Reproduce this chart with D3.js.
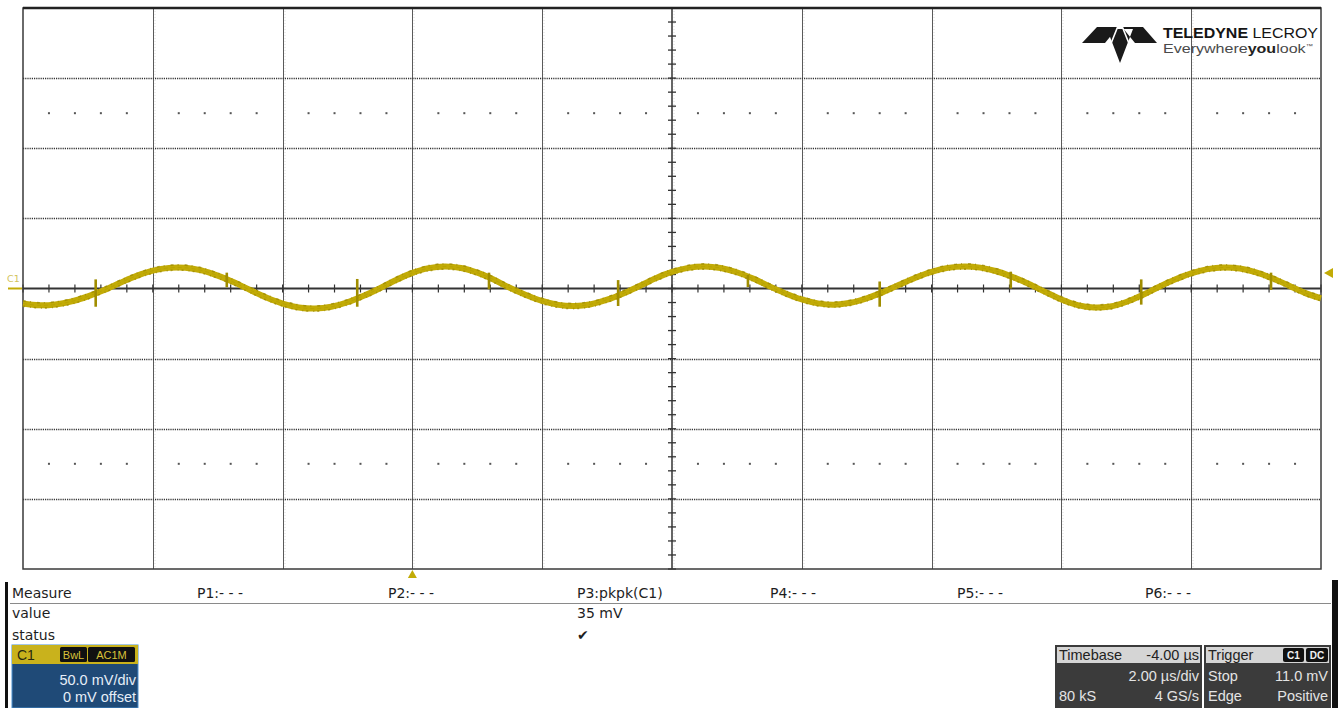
<!DOCTYPE html>
<html>
<head>
<meta charset="utf-8">
<script src="https://cdn.jsdelivr.net/npm/d3@7"></script>
<style>
  html, body { margin: 0; padding: 0; background: #ffffff; }
  svg { display: block; }
</style>
</head>
<body>
<svg id="scope" width="1338" height="708"></svg>
<script>
// ---- Acquisition: channel C1, 2.00 µs/div, 50.0 mV/div ----
// trace samples (time in µs relative to trigger, voltage in mV)
const sampleTimes = [
  -6.00, -5.75, -5.50, -5.25, -5.00, -4.75, -4.50, -4.25, -4.00, -3.75,
  -3.50, -3.25, -3.00, -2.75, -2.50, -2.25, -2.00, -1.75, -1.50, -1.25,
  -1.00, -0.75, -0.50, -0.25, 0.00, 0.25, 0.50, 0.75, 1.00, 1.25,
  1.50, 1.75, 2.00, 2.25, 2.50, 2.75, 3.00, 3.25, 3.50, 3.75,
  4.00, 4.25, 4.50, 4.75, 5.00, 5.25, 5.50, 5.75, 6.00, 6.25,
  6.50, 6.75, 7.00, 7.25, 7.50, 7.75, 8.00, 8.25, 8.50, 8.75,
  9.00, 9.25, 9.50, 9.75, 10.00, 10.25, 10.50, 10.75, 11.00, 11.25,
  11.50, 11.75, 12.00, 12.25, 12.50, 12.75, 13.00, 13.25, 13.50, 13.75,
  14.00
];
const sampleVolts = [
  -10.7, -12.0, -11.4, -9.2, -5.6, -1.1, 4.1, 9.0, 12.7, 14.7,
  14.8, 12.9, 9.2, 4.4, -1.1, -6.4, -10.7, -13.5, -14.3, -13.0,
  -9.8, -5.2, 0.2, 6.1, 11.1, 14.5, 15.7, 14.6, 11.3, 6.4,
  0.5, -4.6, -8.9, -11.7, -12.5, -11.2, -8.0, -3.5, 1.8, 7.3,
  11.8, 14.7, 15.7, 14.6, 11.6, 7.1, 1.6, -3.5, -7.8, -10.6,
  -11.5, -10.2, -7.0, -2.6, 2.6, 7.7, 11.9, 14.7, 15.7, 14.9,
  12.3, 8.2, 3.2, -2.4, -7.8, -11.8, -13.5, -12.8, -9.6, -4.7,
  1.1, 6.4, 10.8, 13.8, 15.0, 14.2, 11.5, 7.3, 2.2, -3.1,
  -7.0
];
// switching glitches riding on the trace (time µs, top mV, bottom mV)
const glitchTimes = [-4.88, -2.86, -0.85, 1.18, 3.17, 5.17, 7.20, 9.22, 11.23, 13.23];
const glitchHigh  = [6.5, 11.3, 6.8, 11.3, 6.0, 9.6, 5.0, 12.0, 6.5, 11.3];
const glitchLow   = [-13.0, 0.9, -13.0, -0.6, -12.5, 1.0, -13.0, 0.0, -11.5, -1.0];

// horizontal window and vertical range
const timeRange = [-6, 14];       // µs (timebase -4.00 µs, 10 div)
const voltRange = [-200, 200];    // mV (8 div × 50 mV)
const triggerTime = 0;            // µs
const triggerLevel = 11.0;        // mV
const dotRowVolt = 125;           // mV rows of fine grid dots

// measurement table
const measureHeaders = ["Measure", "P1:- - -", "P2:- - -", "P3:pkpk(C1)", "P4:- - -", "P5:- - -", "P6:- - -"];
const measureValues  = ["value", "", "", "35 mV", "", "", ""];
const measureStatus  = ["status", "", "", "\u2714", "", "", ""];

// descriptor boxes
const channelInfo  = { name: "C1", tags: ["BwL", "AC1M"], lines: ["50.0 mV/div", "0 mV offset"] };
const timebaseInfo = { title: "Timebase", value: "-4.00 \u00b5s", rows: [["", "2.00 \u00b5s/div"], ["80 kS", "4 GS/s"]] };
const triggerInfo  = { title: "Trigger", tags: ["C1", "DC"], rows: [["Stop", "11.0 mV"], ["Edge", "Positive"]] };

// ---- drawing ----
const svg = d3.select("#scope");
const plot = { left: 23, right: 1321, top: 8, bottom: 569 };

const x = d3.scaleLinear().domain(timeRange).range([plot.left, plot.right]);
const y = d3.scaleLinear().domain(voltRange).range([plot.bottom, plot.top]);

const TRACE = "#c2ab06";
const TRACE_DARK = "#9c8a00";

const g = svg.append("g");

// major divisions
const divTimes = x.ticks(10);           // every 2 µs
const divVolts = y.ticks(8);            // every 50 mV
const minorTimes = d3.range(timeRange[0], timeRange[1] + 1e-9, 0.4);
const minorVolts = d3.range(voltRange[0], voltRange[1] + 1e-9, 10);
const centreTime = (timeRange[0] + timeRange[1]) / 2;

// vertical grid lines
g.append("g").selectAll("line")
  .data(divTimes.filter(t => t > timeRange[0] && t < timeRange[1] && t !== centreTime))
  .join("line")
  .attr("x1", d => Math.round(x(d)) + 0.5).attr("x2", d => Math.round(x(d)) + 0.5)
  .attr("y1", plot.top).attr("y2", plot.bottom)
  .attr("stroke", "#5a5a5a").attr("stroke-width", 1);

// faint halo dots beside vertical grid lines
g.append("g").selectAll("line")
  .data(divTimes.filter(t => t > timeRange[0] && t < timeRange[1]))
  .join("line")
  .attr("x1", d => Math.round(x(d)) + 2).attr("x2", d => Math.round(x(d)) + 2)
  .attr("y1", plot.top).attr("y2", plot.bottom)
  .attr("stroke", "#dcdcdc").attr("stroke-width", 1).attr("stroke-dasharray", "1 2");

// horizontal grid lines (dotted)
g.append("g").selectAll("line")
  .data(divVolts.filter(v => v > voltRange[0] && v < voltRange[1] && v !== 0))
  .join("line")
  .attr("x1", plot.left).attr("x2", plot.right)
  .attr("y1", d => Math.round(y(d)) + 0.5).attr("y2", d => Math.round(y(d)) + 0.5)
  .attr("stroke", "#333").attr("stroke-width", 1.3).attr("stroke-dasharray", "1.2 1");

// fine dot rows
const dotTimes = minorTimes.filter(t => Math.abs(((t - timeRange[0]) / 2) - Math.round((t - timeRange[0]) / 2)) > 0.01);
[dotRowVolt, -dotRowVolt].forEach(v => {
  g.append("g").selectAll("rect")
    .data(dotTimes)
    .join("rect")
    .attr("x", d => x(d) - 1).attr("y", y(v) - 1)
    .attr("width", 2).attr("height", 2)
    .attr("fill", "#555");
});

// centre axes with graduations
g.append("line")
  .attr("x1", plot.left).attr("x2", plot.right)
  .attr("y1", y(0)).attr("y2", y(0))
  .attr("stroke", "#333").attr("stroke-width", 2);
g.append("line")
  .attr("x1", x(centreTime)).attr("x2", x(centreTime))
  .attr("y1", plot.top).attr("y2", plot.bottom)
  .attr("stroke", "#333").attr("stroke-width", 1.5);
g.append("g").selectAll("line")
  .data(minorTimes)
  .join("line")
  .attr("x1", d => x(d)).attr("x2", d => x(d))
  .attr("y1", y(0) - 4).attr("y2", y(0) + 4)
  .attr("stroke", "#333").attr("stroke-width", 1.2);
g.append("g").selectAll("line")
  .data(minorVolts)
  .join("line")
  .attr("x1", x(centreTime) - 4).attr("x2", x(centreTime) + 4)
  .attr("y1", d => y(d)).attr("y2", d => y(d))
  .attr("stroke", "#333").attr("stroke-width", 1.3);

// frame
g.append("rect")
  .attr("x", plot.left).attr("y", plot.top)
  .attr("width", plot.right - plot.left).attr("height", plot.bottom - plot.top)
  .attr("fill", "none").attr("stroke", "#3a3a3a").attr("stroke-width", 1.5);
g.append("line")
  .attr("x1", plot.left).attr("x2", plot.right)
  .attr("y1", plot.top).attr("y2", plot.top)
  .attr("stroke", "#222").attr("stroke-width", 2.5);

// ---- trace ----
const traceData = sampleTimes.map((t, i) => [t, sampleVolts[i]]);
const line = d3.line()
  .x(d => x(d[0]))
  .y(d => y(d[1]))
  .curve(d3.curveCatmullRom.alpha(0.5));

const traceG = svg.append("g");
traceG.append("path")
  .datum(traceData)
  .attr("d", line)
  .attr("fill", "none")
  .attr("stroke", TRACE)
  .attr("stroke-width", 6)
  .attr("stroke-linejoin", "round");
// rough edges of the noisy acquisition band
[-2.6, 2.6].forEach((dy, k) => {
  traceG.append("path")
    .datum(traceData)
    .attr("d", line)
    .attr("transform", `translate(0,${dy})`)
    .attr("fill", "none")
    .attr("stroke", TRACE_DARK)
    .attr("stroke-width", 1.6)
    .attr("stroke-opacity", 0.75)
    .attr("stroke-dasharray", k ? "2 5 1 3" : "3 4 1 6");
});
traceG.append("path")
  .datum(traceData)
  .attr("d", line)
  .attr("fill", "none")
  .attr("stroke", "#b09c00")
  .attr("stroke-width", 1)
  .attr("stroke-opacity", 0.6)
  .attr("stroke-dasharray", "4 3");

traceG.selectAll("line.glitch")
  .data(glitchTimes.map((t, i) => ({ t, hi: glitchHigh[i], lo: glitchLow[i] })))
  .join("line")
  .attr("class", "glitch")
  .attr("x1", d => x(d.t)).attr("x2", d => x(d.t))
  .attr("y1", d => y(d.hi)).attr("y2", d => y(d.lo))
  .attr("stroke", "#a08d00").attr("stroke-width", 2.6);

// channel marker on the left
svg.append("text")
  .attr("x", 7).attr("y", 282)
  .attr("font-family", "DejaVu Sans, sans-serif").attr("font-size", 9.5)
  .attr("fill", "#d2c35c").text(channelInfo.name);
svg.append("line")
  .attr("x1", 8).attr("x2", plot.left - 1)
  .attr("y1", y(0)).attr("y2", y(0))
  .attr("stroke", TRACE).attr("stroke-width", 2);

// trigger level marker (right) and trigger time marker (bottom)
svg.append("path")
  .attr("d", `M${plot.right + 3},${y(triggerLevel)} l9,-5 l0,10 z`)
  .attr("fill", TRACE);
svg.append("path")
  .attr("d", `M${x(triggerTime)},${plot.bottom + 1} l-4.5,8 l9,0 z`)
  .attr("fill", TRACE);

// ---- logo ----
const logo = svg.append("g");
logo.append("path")
  .attr("d", "M1082,43 L1097,27 L1118,27 L1105,43 Z M1157,43 L1143,27 L1122,27 L1135,43 Z M1107,29 L1133,29 L1120,63 Z")
  .attr("fill", "#1a1a1a");
logo.append("path")
  .attr("d", "M1118,26 L1110,46 M1122,26 L1130,46")
  .attr("stroke", "#fff").attr("stroke-width", 1.6);
logo.append("text")
  .attr("x", 1163).attr("y", 38)
  .attr("font-family", "Liberation Sans Narrow, Liberation Sans, sans-serif")
  .attr("font-size", 14).attr("fill", "#151515")
  .attr("textLength", 155).attr("lengthAdjust", "spacingAndGlyphs")
  .call(t => {
    t.append("tspan").attr("font-weight", "bold").text("TELEDYNE ");
    t.append("tspan").text("LECROY");
  });
logo.append("text")
  .attr("x", 1163).attr("y", 53)
  .attr("font-family", "Liberation Sans, sans-serif")
  .attr("font-size", 13).attr("fill", "#4a4a4a")
  .attr("textLength", 150).attr("lengthAdjust", "spacingAndGlyphs")
  .call(t => {
    t.append("tspan").text("Everywhere");
    t.append("tspan").attr("font-weight", "bold").attr("fill", "#222").text("you");
    t.append("tspan").text("look");
    t.append("tspan").attr("font-size", 6).attr("dy", -5).text("\u2122");
  });

// ---- measurement table ----
const panel = svg.append("g");
panel.append("rect").attr("x", 5).attr("y", 582).attr("width", 3).attr("height", 126).attr("fill", "#111");
panel.append("rect").attr("x", 1332).attr("y", 580).attr("width", 6).attr("height", 128).attr("fill", "#111");

const colX = [12, 197, 388, 577, 770, 957, 1145];
const tableFont = "DejaVu Sans, Verdana, sans-serif";
[[measureHeaders, 598], [measureValues, 618], [measureStatus, 640]].forEach(([row, by]) => {
  panel.append("g").selectAll("text")
    .data(row)
    .join("text")
    .attr("x", (d, i) => colX[i]).attr("y", by)
    .attr("font-family", tableFont).attr("font-size", 14)
    .attr("fill", "#1e1e1e")
    .text(d => d);
});
panel.append("line")
  .attr("x1", 10).attr("x2", 1331).attr("y1", 603.5).attr("y2", 603.5)
  .attr("stroke", "#8a8a8a").attr("stroke-width", 1);

// ---- channel descriptor ----
const boxFont = "Liberation Sans, Arial, sans-serif";
const ch = svg.append("g");
ch.append("rect").attr("x", 12).attr("y", 645).attr("width", 126).attr("height", 63)
  .attr("fill", "#1f4a77").attr("stroke", "#4b8fcf").attr("stroke-width", 1);
ch.append("rect").attr("x", 12).attr("y", 645).attr("width", 126).attr("height", 19).attr("fill", "#c9b21c");
ch.append("text").attr("x", 17).attr("y", 660).attr("font-family", boxFont).attr("font-size", 14)
  .attr("fill", "#2a2a10").text(channelInfo.name);
const tagX = [60, 88], tagW = [27, 47];
channelInfo.tags.forEach((tag, i) => {
  ch.append("rect").attr("x", tagX[i]).attr("y", 647).attr("width", tagW[i]).attr("height", 15)
    .attr("fill", "#111").attr("rx", 1.5);
  ch.append("text").attr("x", tagX[i] + tagW[i] / 2).attr("y", 659)
    .attr("text-anchor", "middle").attr("font-family", boxFont).attr("font-size", 11)
    .attr("fill", "#d9c23a").text(tag);
});
channelInfo.lines.forEach((s, i) => {
  ch.append("text").attr("x", 136).attr("y", 685 + i * 17)
    .attr("text-anchor", "end").attr("font-family", boxFont).attr("font-size", 14.5)
    .attr("fill", "#e6eef8").text(s);
});

// ---- timebase & trigger descriptors ----
function descriptor(x0, w, info) {
  const d = svg.append("g");
  d.append("rect").attr("x", x0).attr("y", 645).attr("width", w).attr("height", 63).attr("fill", "#3b3b3b");
  d.append("rect").attr("x", x0 + 2).attr("y", 647).attr("width", w - 4).attr("height", 16).attr("fill", "#d5d5d5");
  d.append("text").attr("x", x0 + 4).attr("y", 660).attr("font-family", boxFont).attr("font-size", 14.5)
    .attr("fill", "#222").text(info.title);
  if (info.value) {
    d.append("text").attr("x", x0 + w - 3).attr("y", 660).attr("text-anchor", "end")
      .attr("font-family", boxFont).attr("font-size", 14.5).attr("fill", "#222").text(info.value);
  }
  if (info.tags) {
    const tw = [21, 22];
    let tx = x0 + w - 3 - tw[0] - tw[1] - 2;
    info.tags.forEach((tag, i) => {
      d.append("rect").attr("x", tx).attr("y", 648).attr("width", tw[i]).attr("height", 14)
        .attr("rx", 2).attr("fill", "#111");
      d.append("text").attr("x", tx + tw[i] / 2).attr("y", 659).attr("text-anchor", "middle")
        .attr("font-family", boxFont).attr("font-size", 10).attr("font-weight", "bold")
        .attr("fill", "#f2f2f2").text(tag);
      tx += tw[i] + 2;
    });
  }
  info.rows.forEach((r, i) => {
    const by = 681 + i * 20;
    d.append("text").attr("x", x0 + 4).attr("y", by).attr("font-family", boxFont)
      .attr("font-size", 14.5).attr("fill", "#e4e4e4").text(r[0]);
    d.append("text").attr("x", x0 + w - 3).attr("y", by).attr("text-anchor", "end")
      .attr("font-family", boxFont).attr("font-size", 14.5).attr("fill", "#e4e4e4").text(r[1]);
  });
}
descriptor(1055, 147, timebaseInfo);
descriptor(1204, 127, triggerInfo);
</script>
</body>
</html>
